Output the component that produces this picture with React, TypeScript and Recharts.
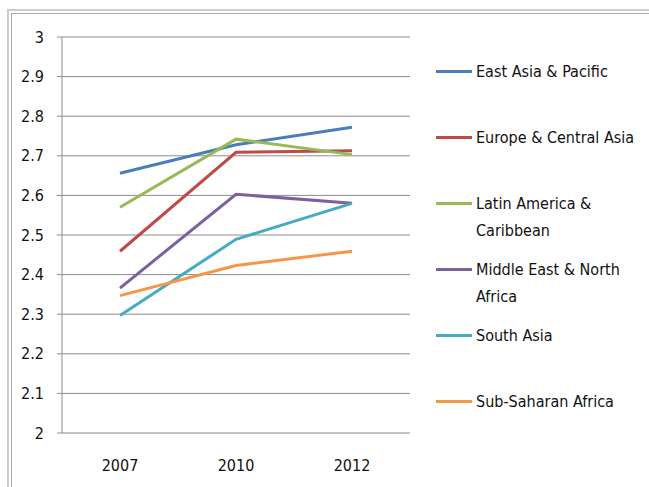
import React from 'react';
import { LineChart, Line, XAxis, YAxis, CartesianGrid, Legend } from 'recharts';

const years = ['2007', '2010', '2012'];
const eastAsiaPacific = [2.656, 2.728, 2.772];
const europeCentralAsia = [2.459, 2.709, 2.713];
const latinAmericaCaribbean = [2.57, 2.742, 2.703];
const middleEastNorthAfrica = [2.366, 2.603, 2.58];
const southAsia = [2.297, 2.489, 2.58];
const subSaharanAfrica = [2.347, 2.423, 2.459];
const yTicks = [2, 2.1, 2.2, 2.3, 2.4, 2.5, 2.6, 2.7, 2.8, 2.9, 3];
const boundaryTicks = [0, 1, 2, 3];

const seriesNames = [
  'East Asia & Pacific',
  'Europe & Central Asia',
  'Latin America & Caribbean',
  'Middle East & North Africa',
  'South Asia',
  'Sub-Saharan Africa',
];
const seriesValues = [
  eastAsiaPacific,
  europeCentralAsia,
  latinAmericaCaribbean,
  middleEastNorthAfrica,
  southAsia,
  subSaharanAfrica,
];
const colors = ['#4a7ebb', '#be4b48', '#98b954', '#7d60a0', '#46aac5', '#f79646'];

const data = years.map((year, i) => {
  const row: Record<string, any> = { year };
  seriesNames.forEach((n, k) => {
    row[n] = seriesValues[k][i];
  });
  return row;
});

const FONT = '"DejaVu Sans Condensed", "DejaVu Sans", sans-serif';
const GRID = '#8c8c8c';
const TEXT = '#111';

const renderLegend = (props: any) => {
  const { payload } = props;
  return (
    <div style={{ fontFamily: FONT, fontSize: 16, color: TEXT }}>
      {(payload || []).map((p: any) => (
        <div key={p.value} style={{ height: 66, display: 'flex', alignItems: 'flex-start' }}>
          <div style={{ width: 36, height: 3, background: p.color, marginTop: 12, flexShrink: 0 }} />
          <div style={{ marginLeft: 4, lineHeight: '27px', width: 170 }}>{p.value}</div>
        </div>
      ))}
    </div>
  );
};

export default function App() {
  return (
    <div style={{ position: 'absolute', left: 0, top: 0, width: 649, height: 487, overflow: 'hidden', background: '#fff' }}>
      <div style={{ position: 'absolute', left: 7, top: 9, width: 700, height: 600, borderLeft: '2px solid #cdcdcd', borderTop: '2px solid #cdcdcd' }} />
      <div style={{ position: 'absolute', left: 11, top: 13, width: 700, height: 600, borderLeft: '1px solid #a9a9a9', borderTop: '1px solid #a9a9a9' }} />
      <div style={{ position: 'absolute', left: 0, top: 0 }}>
        <LineChart width={649} height={487} data={data} margin={{ top: 37, right: 239, bottom: 0, left: 0 }}>
          <CartesianGrid xAxisId="cat" vertical={false} stroke={GRID} strokeWidth={1} />
          <XAxis
            xAxisId="tk"
            type="number"
            domain={[0, 3]}
            allowDataOverflow
            ticks={boundaryTicks}
            tick={false}
            tickSize={5}
            height={0}
            stroke={GRID}
            axisLine={{ stroke: GRID }}
            tickLine={{ stroke: GRID }}
          />
          <XAxis
            xAxisId="cat"
            dataKey="year"
            padding={{ left: 58, right: 58 }}
            axisLine={false}
            tickLine={false}
            tickMargin={21}
            height={54}
            tick={{ fill: TEXT, fontSize: 16, fontFamily: FONT } as any}
          />
          <YAxis
            domain={[2, 3]}
            ticks={yTicks}
            interval={0}
            width={62}
            tickSize={5}
            tickMargin={13}
            axisLine={{ stroke: GRID }}
            tickLine={{ stroke: GRID }}
            tick={{ fill: TEXT, fontSize: 16, fontFamily: FONT } as any}
          />
          <Legend
            layout="vertical"
            align="center"
            verticalAlign="middle"
            content={renderLegend}
            wrapperStyle={{ left: 436, top: 58, width: 212 }}
          />
          {seriesNames.map((n, k) => (
            <Line
              key={n}
              xAxisId="cat"
              type="linear"
              dataKey={n}
              name={n}
              stroke={colors[k]}
              strokeWidth={3}
              dot={false}
              activeDot={false}
              isAnimationActive={false}
            />
          ))}
        </LineChart>
      </div>
    </div>
  );
}
